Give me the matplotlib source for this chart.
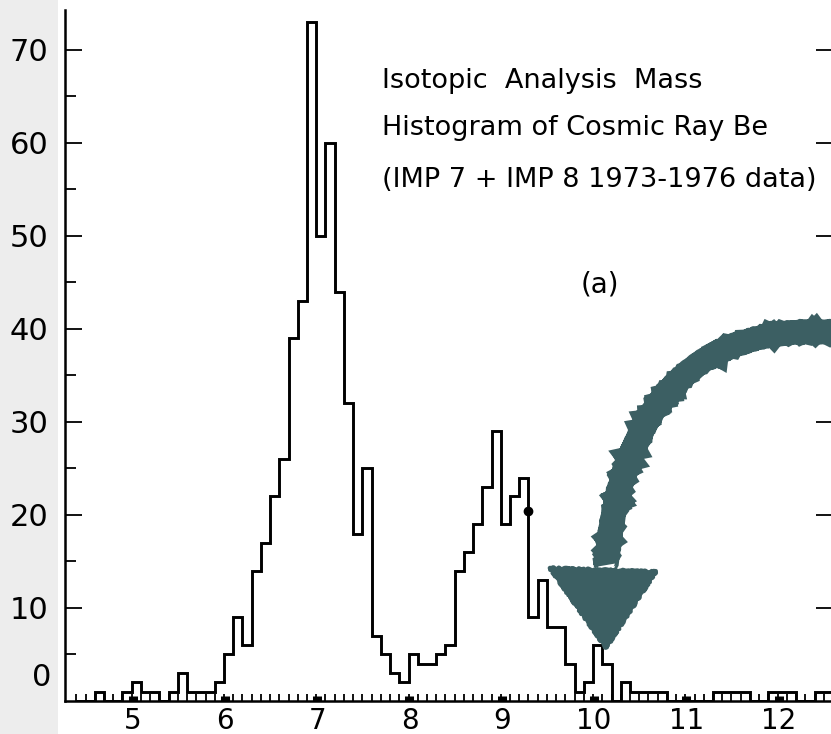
import numpy as np
import matplotlib
matplotlib.use("Agg")
import matplotlib.pyplot as plt
from matplotlib.path import Path
from matplotlib.patches import PathPatch, Polygon, Rectangle

# Mass histogram of cosmic-ray Be (events per 0.1 amu bin)
bin_start = 4.39
bin_width = 0.1
counts = [
    0, 0, 1, 0, 0, 1, 2, 1, 1, 0,
    1, 3, 1, 1, 1, 2, 5, 9, 6, 14,
    17, 22, 26, 39, 43, 73, 50, 60, 44, 32,
    18, 25, 7, 5, 3, 2, 5, 4, 4, 5,
    6, 14, 16, 19, 23, 29, 19, 22, 24, 9,
    13, 8, 8, 4, 1, 2, 6, 4, 0, 2,
    1, 1, 1, 1, 0, 0, 0, 0, 0, 1,
    1, 1, 1, 0, 0, 1, 1, 1, 0, 0,
    1, 1,
]
mass_ticks = [5, 6, 7, 8, 9, 10, 11, 12]
mass_labels = ["5", "6", "7", "8", "9", "10", "11", "12"]
count_ticks = [10, 20, 30, 40, 50, 60, 70]
count_labels = ["10", "20", "30", "40", "50", "60", "70"]

title_lines = [
    "Isotopic  Analysis  Mass",
    "Histogram of Cosmic Ray Be",
    "(IMP 7 + IMP 8 1973-1976 data)",
]
panel_label = "(a)"

# pen mark on the curve near mass 9.3
dot_mass, dot_count = 9.29, 20.4

# hand-drawn arrow pointing at the mass-10 bin (mass, count)
arrow_tail = (12.63, 39.6)
arrow_bend = (10.40, 41.3)
arrow_end = (10.13, 14.6)
arrow_head = [(9.52, 14.3), (10.67, 13.9), (10.13, 5.7)]

ink = "black"
teal = "#3c5f63"

edges = bin_start + bin_width * np.arange(len(counts) + 1)

fig = plt.figure(figsize=(8.31, 7.34), dpi=100)
fig.patch.set_facecolor("white")
fig.add_artist(Rectangle((0, 0), 58 / 831, 1, transform=fig.transFigure,
                         facecolor="#ededed", edgecolor="none", zorder=0))

ax = fig.add_axes([65 / 831, 33 / 734, 768 / 831, 691 / 734])
ax.set_facecolor("none")
ax.set_xlim(4.267, 12.498)
ax.set_ylim(0, 74.3)

ax.stairs(counts, edges, color=ink, linewidth=2.1, baseline=0, zorder=3)
ax.plot([dot_mass], [dot_count], "o", color=ink, markersize=6, zorder=4)

ax.spines["top"].set_visible(False)
for side in ("left", "bottom", "right"):
    ax.spines[side].set_linewidth(1.8)
    ax.spines[side].set_color(ink)

# x axis: comb of bin-edge ticks with solid blocks at whole masses
ax.set_xticks(mass_ticks)
ax.set_xticklabels(mass_labels)
ax.set_xticks(edges, minor=True)
ax.tick_params(axis="x", which="major", direction="in", length=3.5, width=6.5,
               pad=4, labelsize=20, colors=ink)
ax.tick_params(axis="x", which="minor", direction="in", length=5, width=1.3,
               colors=ink)

# y axis: labelled ticks every 10, short ticks every 5, mirrored on the right
ax.set_yticks(count_ticks)
ax.set_yticklabels(count_labels)
ax.set_yticks([5, 15, 25, 35, 45, 55, 65], minor=True)
ax.tick_params(axis="y", which="major", direction="in", length=12, width=1.3,
               pad=12, labelsize=22, colors=ink, right=True)
ax.tick_params(axis="y", which="minor", direction="in", length=8, width=1.3,
               colors=ink, right=False)
ax.text(-0.018, 2.5, "0", transform=ax.get_yaxis_transform(), ha="right",
        va="center", fontsize=22, color=ink)

text_x = 7.70
for line, y in zip(title_lines, [65.9, 60.9, 55.3]):
    ax.text(text_x, y, line, fontsize=19.5, color=ink, ha="left",
            va="baseline", zorder=4)
ax.text(10.06, 43.9, panel_label, fontsize=20, color=ink, ha="center",
        va="baseline", zorder=4)

# arrow: curved shaft plus triangular head, rough marker-pen edges
shaft = Path([arrow_tail, arrow_bend, arrow_end],
             [Path.MOVETO, Path.CURVE3, Path.CURVE3])
stroke = PathPatch(shaft, facecolor="none", edgecolor=teal, linewidth=17,
                   capstyle="butt", clip_on=False, zorder=5)
stroke.set_sketch_params(scale=0.8, length=5, randomness=6)
ax.add_patch(stroke)
head = Polygon(arrow_head, closed=True, facecolor=teal, edgecolor=teal,
               linewidth=3, joinstyle="round", clip_on=False, zorder=5)
head.set_sketch_params(scale=0.8, length=5, randomness=6)
ax.add_patch(head)

fig.savefig("out.png", dpi=100, facecolor=fig.get_facecolor())
